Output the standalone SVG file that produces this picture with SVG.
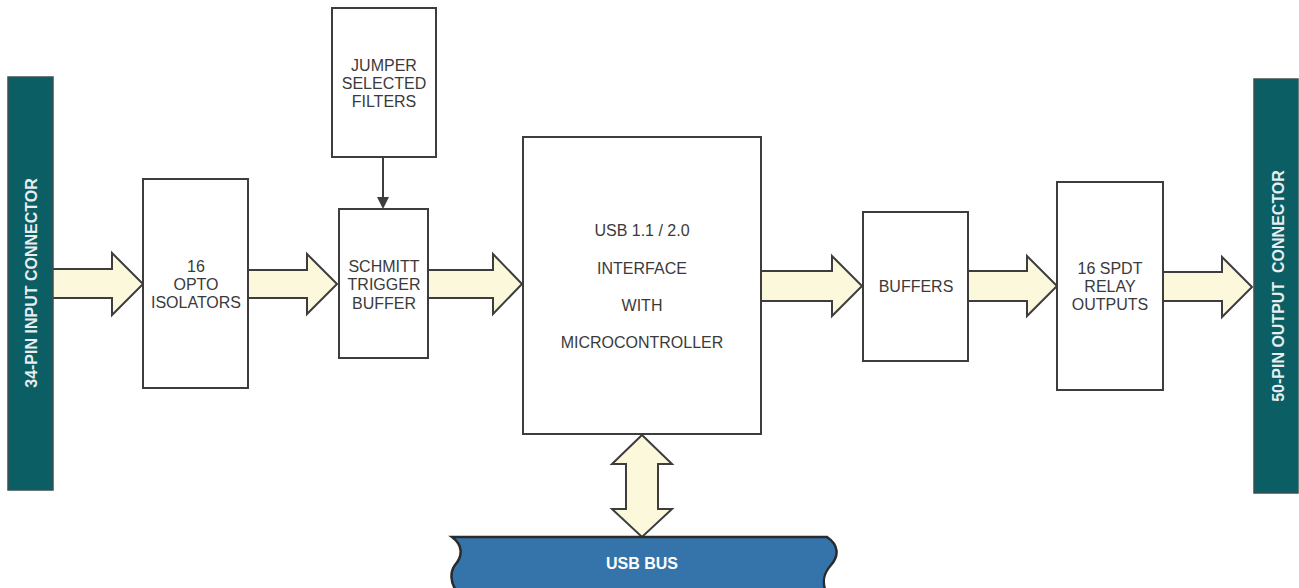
<svg xmlns="http://www.w3.org/2000/svg" width="1299" height="588" viewBox="0 0 1299 588">
<style>
.box{fill:#fff;stroke:#3d3d3d;stroke-width:2}
.conn{fill:#0b5e64;stroke:#3e4f50;stroke-width:1.5}
.fat{fill:#fbf8dc;stroke:#3d3d3d;stroke-width:2;stroke-linejoin:miter}
.t{font-family:"Liberation Sans",Arial,sans-serif;font-size:16px;fill:#3a3a3a;text-anchor:middle}
.ct{font-family:"Liberation Sans",Arial,sans-serif;font-size:16px;font-weight:bold;fill:#e6eef0;text-anchor:middle}
.bt{font-family:"Liberation Sans",Arial,sans-serif;font-size:16px;font-weight:bold;fill:#ffffff;text-anchor:middle}
</style>
<rect width="1299" height="588" fill="#fff"/>
<g id="connectors">
<polygon class="fat" points="50,269 112,269 112,253 143,284 112,315 112,298 50,298"/>
<polygon class="fat" points="248,270 307,270 307,254 337,284 307,314 307,298 248,298"/>
<polygon class="fat" points="428,270 493,270 493,254 522,284 493,314 493,298 428,298"/>
<polygon class="fat" points="761,271 832,271 832,256 862,286 832,316 832,301 761,301"/>
<polygon class="fat" points="968,271 1027,271 1027,256 1057,286 1027,316 1027,301 968,301"/>
<polygon class="fat" points="1163,272 1222,272 1222,257 1252,287 1222,317 1222,301 1163,301"/>
<polygon class="fat" points="642,435 672,464 658,464 658,509 672,509 642,537 612,509 626,509 626,464 612,464"/>
<line x1="383" y1="157" x2="383" y2="198" stroke="#3d3d3d" stroke-width="2"/>
<polygon points="377,197 389,197 383,209" fill="#3d3d3d"/>
</g>
<g id="input-connector">
<rect class="conn" x="8" y="77" width="45" height="413"/>
<text class="ct" transform="translate(37,283) rotate(-90)">34-PIN INPUT CONNECTOR</text>
</g>
<g id="opto">
<rect class="box" x="143" y="179" width="105" height="209"/>
<text class="t" x="196" y="272">16</text>
<text class="t" x="196" y="290">OPTO</text>
<text class="t" x="196" y="308">ISOLATORS</text>
</g>
<g id="jumper">
<rect class="box" x="332" y="8" width="104" height="149"/>
<text class="t" x="384" y="71">JUMPER</text>
<text class="t" x="384" y="89">SELECTED</text>
<text class="t" x="384" y="107">FILTERS</text>
</g>
<g id="schmitt">
<rect class="box" x="339" y="209" width="89" height="149"/>
<text class="t" x="384" y="272">SCHMITT</text>
<text class="t" x="384" y="290">TRIGGER</text>
<text class="t" x="384" y="309">BUFFER</text>
</g>
<g id="micro">
<rect class="box" x="523" y="137" width="238" height="297"/>
<text class="t" x="642" y="236">USB 1.1 / 2.0</text>
<text class="t" x="642" y="274">INTERFACE</text>
<text class="t" x="642" y="311">WITH</text>
<text class="t" x="642" y="348">MICROCONTROLLER</text>
</g>
<g id="buffers">
<rect class="box" x="863" y="212" width="105" height="149"/>
<text class="t" x="916" y="292">BUFFERS</text>
</g>
<g id="relay">
<rect class="box" x="1057" y="182" width="106" height="208"/>
<text class="t" x="1110" y="274">16 SPDT</text>
<text class="t" x="1110" y="292">RELAY</text>
<text class="t" x="1110" y="310">OUTPUTS</text>
</g>
<g id="output-connector">
<rect class="conn" x="1254" y="79" width="44" height="414"/>
<text class="ct" transform="translate(1284,286) rotate(-90)" xml:space="preserve">50-PIN OUTPUT  CONNECTOR</text>
</g>
<g id="usb-bus">
<path d="M452,537 L827,537 C839,545 839,556 831,565 C823,574 822,582 826,592 L457,592 C450,582 450,572 455,565 C463,556 463,545 452,537 Z" fill="#3574aa" stroke="#2b2b2b" stroke-width="2.5"/>
<text class="bt" x="642" y="569">USB BUS</text>
</g>
</svg>
